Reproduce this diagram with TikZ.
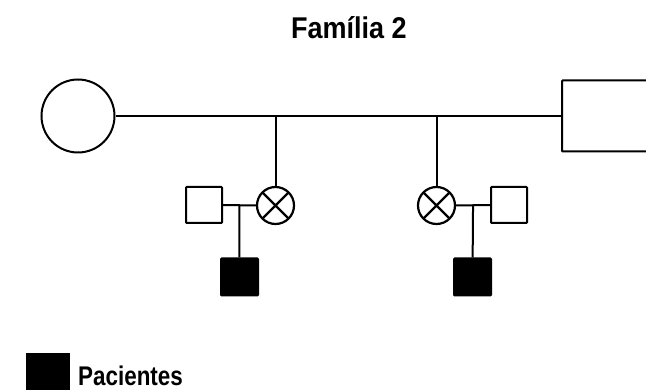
\documentclass[tikz,border=0pt]{standalone}
\usepackage{fontspec}
\newfontfamily\titlefont[FakeStretch=0.9]{Liberation Sans}
\newfontfamily\legendfont[FakeStretch=0.83]{Liberation Sans}
\usetikzlibrary{calc,positioning}
\tikzstyle{line} = [line width=2pt]
\tikzstyle{female} = [circle, draw=black, line width=2pt, minimum size=73pt, inner sep=0pt]
\tikzstyle{male} = [rectangle, draw=black, line width=2pt, minimum size=36pt, inner sep=0pt, rounded corners=0.8pt]
\tikzstyle{affected} = [male, fill=black, minimum size=37pt]
\newcommand\ppbb{path picture bounding box}
\tikzset{
	carrier/.style = {circle, draw=black, line width=2.2pt,
		minimum size=37pt, inner sep=0pt,
		path picture={\draw[line width=2.2pt]
			(\ppbb.north west) -- (\ppbb.south east)
			(\ppbb.north east) -- (\ppbb.south west);
		},% end of path picture
	}
}
\begin{document}
\begin{tikzpicture}[x=1pt, y=-1pt]
\useasboundingbox (0,0) rectangle (646,390);
\clip (0,0) rectangle (646,390);
%----------------------------------------------------------------------------
% Title
\node (title) [anchor=base west, inner sep=0pt] at (291,39) {\titlefont\bfseries\fontsize{30}{34}\selectfont Família 2};

%----------------------------------------------------------------------------
% Generation I
\node (mother) [female] at (78,116) {};
\node (father) [male, minimum width=140pt, minimum height=71pt] at (632,116) {};
\coordinate (dropA) at (275.5,116);
\coordinate (dropB) at (436.5,116);

% Generation II
\node (daughterA) [carrier] at (275.5,205.5) {};
\node (spouseA) [male] at (204,205) {};
\node (daughterB) [carrier] at (436.5,205.5) {};
\node (spouseB) [male] at (509,205) {};

% Generation III
\node (sonA) [affected] at (239.5,277) {};
\node (sonB) [affected] at (472.5,277) {};

%----------------------------------------------------------------------------
% Lines
\draw [line] (mother) -- (father);
\draw [line] (dropA) -- (daughterA);
\draw [line] (dropB) -- (daughterB);
\draw [line] (spouseA) -- (daughterA);
\draw [line] (daughterB) -- (spouseB);
\draw [line] ($(spouseA.east)!0.5!(daughterA.west)$) -- (sonA);
\draw [line] ($(daughterB.east)!0.5!(spouseB.west)$) -- (sonB);

%----------------------------------------------------------------------------
% Legend
\node (keyBox) [rectangle, fill=black, minimum size=44pt, inner sep=0pt] at (48,375) {};
\node (keyText) [anchor=base west, inner sep=0pt] at (78,385) {\legendfont\bfseries\fontsize{27}{30}\selectfont Pacientes};
\end{tikzpicture}
\end{document}
